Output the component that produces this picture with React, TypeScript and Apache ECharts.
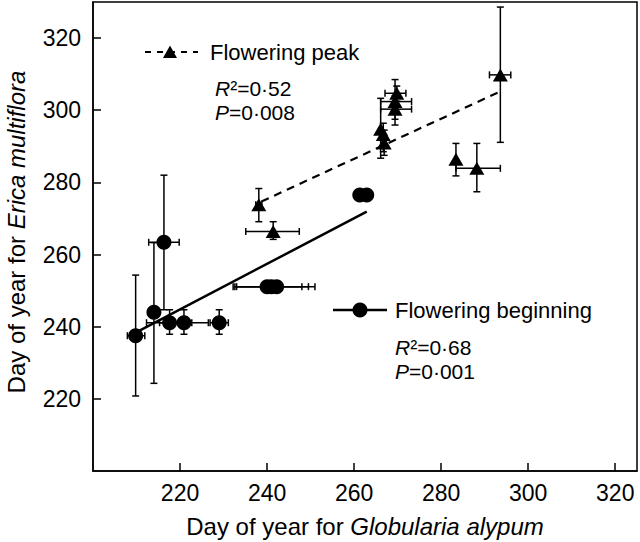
import React, { useEffect, useRef } from "react";
import * as echarts from "echarts";

// Flowering peak (triangles)
const peakX = [238.1, 241.4, 266.1, 266.7, 266.9, 269.8, 269.4, 269.4, 283.4, 288.2, 293.6];
const peakY = [273.8, 266.4, 294.7, 293.3, 290.9, 304.7, 302.4, 300.3, 286.4, 283.9, 309.8];
const peakXLo = [237.4, 235.1, 266.1, 266.7, 266.9, 267.1, 266.1, 266.1, 283.4, 283.4, 291.1];
const peakXHi = [238.8, 247.4, 266.1, 266.7, 266.9, 271.9, 273.2, 273.2, 283.4, 293.6, 296.0];
const peakYLo = [269.1, 264.2, 286.7, 288.5, 287.5, 302.5, 297.5, 295.9, 281.8, 277.4, 291.1];
const peakYHi = [278.3, 269.1, 303.3, 296.4, 294.5, 306.7, 308.5, 304.0, 290.8, 290.8, 328.6];

// Flowering beginning (circles)
const beginX = [209.8, 214.0, 216.3, 217.6, 220.9, 229.0, 240.0, 241.0, 242.2, 261.3, 262.9];
const beginY = [237.5, 244.0, 263.4, 241.1, 241.1, 241.1, 251.1, 251.1, 251.1, 276.5, 276.5];
const beginXLo = [207.9, 214.0, 212.8, 212.3, 215.3, 226.9, 232.2, 232.6, 233.0, 261.3, 262.3];
const beginXHi = [211.9, 214.0, 219.8, 222.7, 226.5, 231.1, 248.0, 249.5, 251.0, 261.3, 263.6];
const beginYLo = [220.8, 224.3, 244.7, 237.9, 237.9, 237.9, 251.1, 251.1, 251.1, 276.5, 276.5];
const beginYHi = [254.3, 263.3, 282.0, 244.7, 244.7, 244.7, 251.1, 251.1, 251.1, 276.5, 276.5];

// Regression line end points
const peakLineX = [238.7, 293.4];
const peakLineY = [274.7, 305.1];
const beginLineX = [209.6, 262.9];
const beginLineY = [238.2, 271.9];

// Axes
const xMin = 200;
const xMax = 325;
const yMin = 200;
const yMax = 330;
const tickStep = 20;

const FONT = "Liberation Sans, Arial, Helvetica, sans-serif";

function errRender(params: any, api: any) {
  const x = api.value(0);
  const y = api.value(1);
  const xl = api.value(2);
  const xh = api.value(3);
  const yl = api.value(4);
  const yh = api.value(5);
  const cap = 3.5;
  const st = { stroke: "#000", lineWidth: 1.5 };
  const children: any[] = [];
  if (yh > yl) {
    const p1 = api.coord([x, yl]);
    const p2 = api.coord([x, yh]);
    children.push({ type: "line", shape: { x1: p1[0], y1: p1[1], x2: p2[0], y2: p2[1] }, style: st });
    children.push({ type: "line", shape: { x1: p1[0] - cap, y1: p1[1], x2: p1[0] + cap, y2: p1[1] }, style: st });
    children.push({ type: "line", shape: { x1: p2[0] - cap, y1: p2[1], x2: p2[0] + cap, y2: p2[1] }, style: st });
  }
  if (xh > xl) {
    const p1 = api.coord([xl, y]);
    const p2 = api.coord([xh, y]);
    children.push({ type: "line", shape: { x1: p1[0], y1: p1[1], x2: p2[0], y2: p2[1] }, style: st });
    children.push({ type: "line", shape: { x1: p1[0], y1: p1[1] - cap, x2: p1[0], y2: p1[1] + cap }, style: st });
    children.push({ type: "line", shape: { x1: p2[0], y1: p2[1] - cap, x2: p2[0], y2: p2[1] + cap }, style: st });
  }
  return { type: "group", children };
}

const rich = {
  i: { fontStyle: "italic", fontSize: 21, fontFamily: FONT, fill: "#000", lineHeight: 19 },
  n: { fontSize: 21, fontFamily: FONT, fill: "#000", lineHeight: 19 },
};

export default function App() {
  const ref = useRef<HTMLDivElement>(null);
  useEffect(() => {
    if (!ref.current) return;
    const chart = echarts.init(ref.current, null, { renderer: "svg" });
    const peakErr = peakX.map((x, i) => [x, peakY[i], peakXLo[i], peakXHi[i], peakYLo[i], peakYHi[i]]);
    const beginErr = beginX.map((x, i) => [x, beginY[i], beginXLo[i], beginXHi[i], beginYLo[i], beginYHi[i]]);
    const axisCommon = {
      type: "value",
      interval: tickStep,
      splitLine: { show: false },
      axisLine: { show: true, lineStyle: { color: "#000", width: 1.5 } },
      axisTick: { show: true, inside: true, length: 8, lineStyle: { color: "#000", width: 1.5 } },
    };
    chart.setOption({
      animation: false,
      backgroundColor: "#fff",
      grid: { left: 93, right: 3, top: 2, bottom: 71, show: true, borderColor: "#000", borderWidth: 1.5 },
      xAxis: {
        ...axisCommon,
        min: xMin,
        max: xMax,
        axisLabel: { showMinLabel: false, showMaxLabel: false, color: "#000", fontSize: 23, fontFamily: FONT, margin: 10 },
      },
      yAxis: {
        ...axisCommon,
        min: yMin,
        max: yMax,
        axisLabel: { showMinLabel: false, showMaxLabel: false, color: "#000", fontSize: 23, fontFamily: FONT, margin: 12 },
      },
      series: [
        {
          type: "line",
          data: peakLineX.map((x, i) => [x, peakLineY[i]]),
          showSymbol: false,
          lineStyle: { color: "#000", width: 2.2, type: [8, 6] },
          z: 2,
        },
        {
          type: "line",
          data: beginLineX.map((x, i) => [x, beginLineY[i]]),
          showSymbol: false,
          lineStyle: { color: "#000", width: 2.5 },
          z: 2,
        },
        { type: "custom", renderItem: errRender, data: peakErr, encode: { x: 0, y: 1 }, z: 3 },
        { type: "custom", renderItem: errRender, data: beginErr, encode: { x: 0, y: 1 }, z: 3 },
        {
          type: "scatter",
          data: peakX.map((x, i) => [x, peakY[i]]),
          symbol: "triangle",
          symbolSize: [15, 13],
          itemStyle: { color: "#000", opacity: 1 },
          z: 4,
        },
        {
          type: "scatter",
          data: beginX.map((x, i) => [x, beginY[i]]),
          symbol: "circle",
          symbolSize: 15,
          itemStyle: { color: "#000", opacity: 1 },
          z: 4,
        },
      ],
      graphic: [
        // Flowering peak legend
        { type: "line", shape: { x1: 145, y1: 52, x2: 198, y2: 52 }, style: { stroke: "#000", lineWidth: 2, lineDash: [6, 6] } },
        { type: "polygon", shape: { points: [[170, 45.5], [177, 58], [163, 58]] }, style: { fill: "#000" } },
        { type: "text", x: 210, y: 52, style: { text: "Flowering peak", font: `22px ${FONT}`, fill: "#000", verticalAlign: "middle" } },
        { type: "text", x: 215, y: 88, style: { text: "{i|R}{n|²=0·52}", rich, verticalAlign: "middle" } },
        { type: "text", x: 215, y: 112, style: { text: "{i|P}{n|=0·008}", rich, verticalAlign: "middle" } },
        // Flowering beginning legend
        { type: "line", shape: { x1: 333, y1: 310, x2: 387, y2: 310 }, style: { stroke: "#000", lineWidth: 2.5 } },
        { type: "circle", shape: { cx: 360, cy: 310, r: 7.5 }, style: { fill: "#000" } },
        { type: "text", x: 395, y: 310, style: { text: "Flowering beginning", font: `22px ${FONT}`, fill: "#000", verticalAlign: "middle" } },
        { type: "text", x: 395, y: 347, style: { text: "{i|R}{n|²=0·68}", rich, verticalAlign: "middle" } },
        { type: "text", x: 395, y: 371, style: { text: "{i|P}{n|=0·001}", rich, verticalAlign: "middle" } },
        // Axis titles
        {
          type: "text",
          x: 365,
          y: 526,
          style: {
            text: "Day of year for {i|Globularia alypum}",
            font: `24px ${FONT}`,
            fill: "#000",
            align: "center",
            verticalAlign: "middle",
            rich: { i: { fontStyle: "italic", fontSize: 24, fontFamily: FONT, fill: "#000" } },
          },
        },
        {
          type: "text",
          x: 16,
          y: 232,
          rotation: Math.PI / 2,
          style: {
            text: "Day of year for {i|Erica multiflora}",
            font: `24px ${FONT}`,
            fill: "#000",
            align: "center",
            verticalAlign: "middle",
            rich: { i: { fontStyle: "italic", fontSize: 24, fontFamily: FONT, fill: "#000" } },
          },
        },
      ],
    });
    return () => chart.dispose();
  }, []);
  return <div ref={ref} style={{ width: 640, height: 542, position: "absolute", left: 0, top: 0 }} />;
}
